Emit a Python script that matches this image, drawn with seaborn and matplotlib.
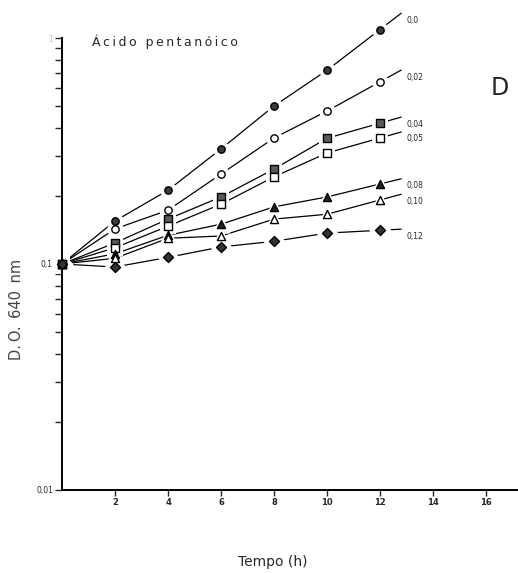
import numpy as np
import pandas as pd
import matplotlib
matplotlib.use("Agg")
import matplotlib.pyplot as plt
import seaborn as sns

# ---- data ----
time_h = [0, 2, 4, 6, 8, 10, 12]
conc_labels = ["0,0", "0,02", "0,04", "0,05", "0,08", "0,10", "0,12"]
od_00 = [0.100, 0.155, 0.212, 0.323, 0.500, 0.720, 1.090]
od_002 = [0.100, 0.143, 0.173, 0.250, 0.361, 0.475, 0.640]
od_004 = [0.100, 0.124, 0.158, 0.198, 0.263, 0.360, 0.420]
od_005 = [0.100, 0.118, 0.147, 0.184, 0.243, 0.310, 0.361]
od_008 = [0.100, 0.111, 0.134, 0.150, 0.179, 0.198, 0.226]
od_010 = [0.100, 0.106, 0.130, 0.133, 0.158, 0.166, 0.192]
od_012 = [0.100, 0.097, 0.107, 0.119, 0.126, 0.137, 0.141]
x_ticks = [2, 4, 6, 8, 10, 12, 14, 16]
y_tick_values = [0.01, 0.1, 1]
y_tick_labels = ["0,01", "0,1", "1"]

series = [od_00, od_002, od_004, od_005, od_008, od_010, od_012]
markers = ["o", "o", "s", "s", "^", "^", "D"]
faces = ["#3a3a3a", "white", "#5a5a5a", "white", "#222222", "white", "#333333"]
sizes = [28, 28, 26, 26, 34, 34, 26]

sns.set_style("ticks")
plt.rcParams["font.family"] = ["DejaVu Sans"]

fig = plt.figure(figsize=(5.18, 5.73), dpi=100)
ax = fig.add_axes([62 / 518, 83 / 573, 1 - 62 / 518, (535 - 83) / 573])
ax.set_yscale("log")

ext_t = 12.8  # end of drawn line continuation beyond last measurement
for lab, vals, m, fc, s in zip(conc_labels, series, markers, faces, sizes):
    slope = np.log10(vals[-1] / vals[-2]) / (time_h[-1] - time_h[-2])
    y_end = vals[-1] * 10 ** (slope * (ext_t - time_h[-1]))
    line_df = pd.DataFrame({"t": time_h + [ext_t], "od": vals + [y_end]})
    sns.lineplot(data=line_df, x="t", y="od", ax=ax, color="black", lw=0.9,
                 estimator=None, sort=False, zorder=1, clip_on=False)
    pts = pd.DataFrame({"t": time_h, "od": vals})
    sns.scatterplot(data=pts, x="t", y="od", ax=ax, marker=m, s=s * 5,
                    color="white", edgecolor="white", linewidth=0, zorder=2, clip_on=False)
    sns.scatterplot(data=pts, x="t", y="od", ax=ax, marker=m, s=s,
                    facecolor=fc, edgecolor="black", linewidth=1.0,
                    zorder=4, clip_on=False)
    ax.annotate(lab, xy=(ext_t, y_end), xytext=(3.5, -5), textcoords="offset points",
                fontsize=5.5, ha="left", va="center", annotation_clip=False)

ax.set_xlim(0, 456 / 26.5)
ax.set_ylim(0.01, 1.0)
ax.set_xticks(x_ticks)
ax.set_xticklabels([str(v) for v in x_ticks], fontsize=6, fontweight="bold")
ax.set_yticks(y_tick_values)
ax.set_yticklabels(y_tick_labels, fontsize=5.5)
ax.get_yticklabels()[2].set_color("#c0c0c0")
ax.yaxis.set_minor_locator(matplotlib.ticker.LogLocator(base=10, subs=np.arange(2, 10)))
ax.yaxis.set_minor_formatter(matplotlib.ticker.NullFormatter())
ax.tick_params(axis="y", which="major", length=5, width=1.0, pad=1.5, direction="out")
ax.tick_params(axis="y", which="minor", length=5, width=1.0, direction="out")
ax.tick_params(axis="x", which="major", length=4, width=1.0, pad=2, direction="out")

for side in ["top", "right"]:
    ax.spines[side].set_visible(False)
for side in ["left", "bottom"]:
    ax.spines[side].set_linewidth(1.4)
    ax.spines[side].set_color("black")
    ax.spines[side].set_zorder(3)

ax.set_xlabel("Tempo (h)", fontsize=10)
ax.xaxis.label.set_va("center")
ax.xaxis.set_label_coords(0.463, -0.159)
ax.set_ylabel("D.\u2009O.\u2009 640\u2009 nm", fontsize=10.5, color="#444444")
ax.yaxis.label.set_va("center")
ax.yaxis.set_label_coords(-0.099, 0.40)

title = "\u2009".join("Ácido") + "\u2009\u2009 " + "\u2009".join("pentanóico")
fig.text(92 / 518, 1 - 42 / 573, title, fontsize=9, ha="left", va="center")
fig.text(500 / 518, 1 - 88 / 573, "D", fontsize=17, ha="center", va="center")

fig.savefig("out.png", dpi=100, facecolor="white")
